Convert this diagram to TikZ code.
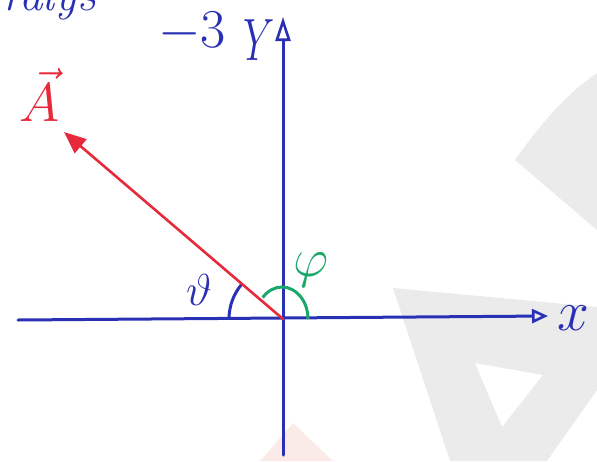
\documentclass[tikz,border=0pt]{standalone}
\usetikzlibrary{arrows.meta}
\definecolor{ink}{HTML}{2A30B4}
\definecolor{redink}{HTML}{E62A3C}
\definecolor{greenink}{HTML}{1AA86A}
\definecolor{wm}{HTML}{EBEBEB}
\definecolor{wmpink}{HTML}{FBEBE8}
\tikzset{
  axis/.style={draw=ink, line width=3pt, line cap=round},
  vecline/.style={draw=redink, line width=2.6pt, line cap=round},
  anglearc/.style={line width=3pt},
  lbl/.style={inner sep=0pt, outer sep=0pt, font=\Huge},
}
\begin{document}
\begin{tikzpicture}[x=1pt,y=-1pt]
\useasboundingbox (0,0) rectangle (597,461);
\clip (0,0) rectangle (597,461);
% watermark
\fill[wm] (515,160) .. controls (540,125) and (565,95) .. (597,73) -- (597,230) -- cycle;
\fill[wm, even odd rule] (393,288) -- (597,307) -- (597,390) -- (547,461) -- (450,461) -- cycle
  (475,363) -- (543,375) -- (502,427) -- cycle;
\fill[wmpink] (293,423) -- (333,461) -- (260,461) -- cycle;
% coordinates
\coordinate (O) at (283,319);
\coordinate (xl) at (18,320);
\coordinate (xr) at (548,316);
\coordinate (yb) at (283,455);
\coordinate (yt) at (283,17);
\coordinate (Atip) at (64,132);
% axes
\draw[axis, -{Triangle[open, length=16pt, width=14pt, line width=2.6pt]}] (xl) -- (xr);
\draw[axis, -{Triangle[open, length=24pt, width=15pt, line width=2.6pt]}] (yb) -- (yt);
% angle arcs
\draw[ink, anglearc] (229,319) arc[start angle=180, end angle=220.5, radius=54];
\draw[greenink, anglearc] (308,319) arc[start angle=0, end angle=-138, x radius=26, y radius=32];
% vector
\draw[vecline, -{Triangle[length=22pt, width=18pt]}] (O) -- (Atip);
% labels
\node[lbl, text=ink, scale=2.3] (xlab) at (573,318) {$x$};
\node[lbl, text=ink, xscale=1.6, yscale=2.4] (ylab) at (259,40) {$Y$};
\node[lbl, text=ink, scale=2.2] (m3) at (192,32) {$-3$};
\node[lbl, text=redink, scale=2.2] (Alab) at (40,95) {$\vec{A}$};
\node[lbl, text=ink, scale=1.8] (th) at (199,290) {$\vartheta$};
\node[lbl, text=greenink, scale=2.2] (ph) at (311,270) {$\varphi$};
\node[lbl, text=ink, scale=1.9, anchor=base west] (top) at (2,10) {\textit{ralys}};
\end{tikzpicture}
\end{document}
